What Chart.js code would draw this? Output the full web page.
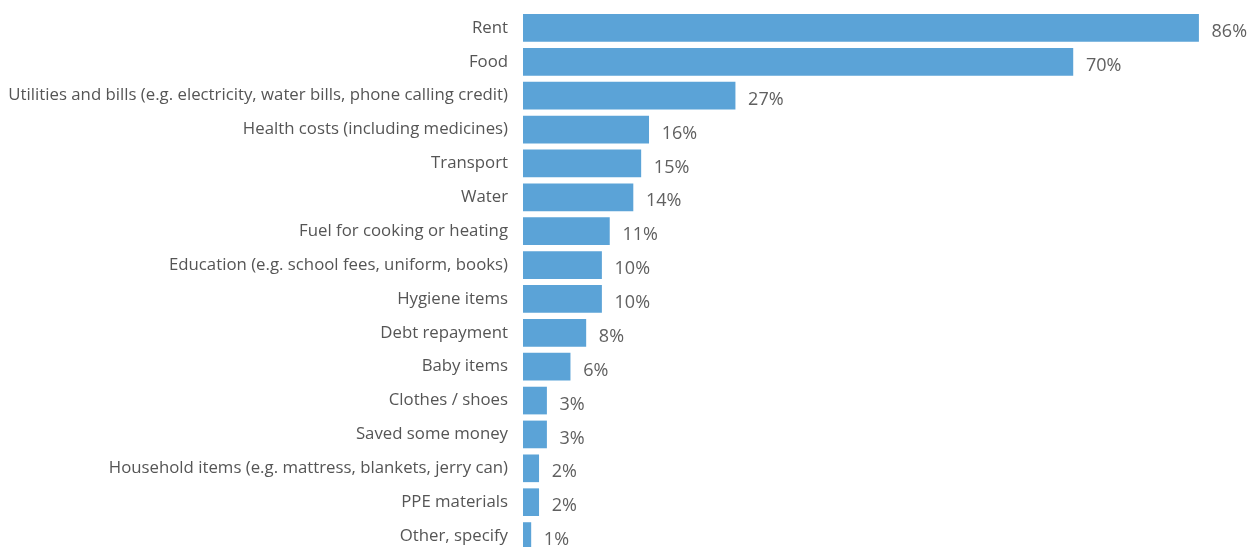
<!DOCTYPE html>
<html>
<head>
<meta charset="utf-8">
<script src="https://cdn.jsdelivr.net/npm/chart.js@4"></script>
<style>
  html, body { margin: 0; padding: 0; background: #fff; overflow: hidden; }
  #wrap { position: relative; width: 1252px; height: 553px; }
</style>
</head>
<body>
<div id="wrap"><canvas id="chart"></canvas></div>
<script>
// ======= DATA =======
const categories = [
  "Rent",
  "Food",
  "Utilities and bills (e.g. electricity, water bills, phone calling credit)",
  "Health costs (including medicines)",
  "Transport",
  "Water",
  "Fuel for cooking or heating",
  "Education (e.g. school fees, uniform, books)",
  "Hygiene items",
  "Debt repayment",
  "Baby items",
  "Clothes / shoes",
  "Saved some money",
  "Household items (e.g. mattress, blankets, jerry can)",
  "PPE materials",
  "Other, specify"
];
const percentValues = [86, 70, 27, 16, 15, 14, 11, 10, 10, 8, 6, 3, 3, 2, 2, 1];

// ======= VALUE LABELS PLUGIN =======
const valueLabels = {
  id: "valueLabels",
  afterDatasetsDraw(chart) {
    const ctx = chart.ctx;
    const meta = chart.getDatasetMeta(0);
    ctx.save();
    ctx.font = "18px 'Open Sans', sans-serif";
    ctx.fillStyle = "#606060";
    ctx.textAlign = "left";
    ctx.textBaseline = "middle";
    meta.data.forEach((bar, i) => {
      ctx.fillText(percentValues[i] + "%", bar.x + 13, bar.y + 4);
    });
    ctx.restore();
  }
};

new Chart(document.getElementById("chart"), {
  type: "bar",
  data: {
    labels: categories,
    datasets: [{
      data: percentValues,
      backgroundColor: "#5ba3d7",
      barThickness: 27
    }]
  },
  options: {
    indexAxis: "y",
    responsive: true,
    maintainAspectRatio: false,
    animation: false,
    layout: { padding: { top: 11, right: 0, bottom: 0, left: 0 } },
    plugins: {
      legend: { display: false },
      tooltip: { enabled: false }
    },
    scales: {
      x: { display: false, min: 0, max: 92.8 },
      y: {
        grid: { display: false },
        border: { display: false },
        ticks: {
          padding: 7,
          color: "#555555",
          font: { family: "'Open Sans', sans-serif", size: 16.8 }
        },
        afterFit(scale) {
          scale.width = 523;
          // no extra room for half labels at top / bottom
          scale.paddingTop = 0;
          scale.paddingBottom = 0;
        }
      }
    }
  },
  plugins: [valueLabels]
});
</script>
</body>
</html>
